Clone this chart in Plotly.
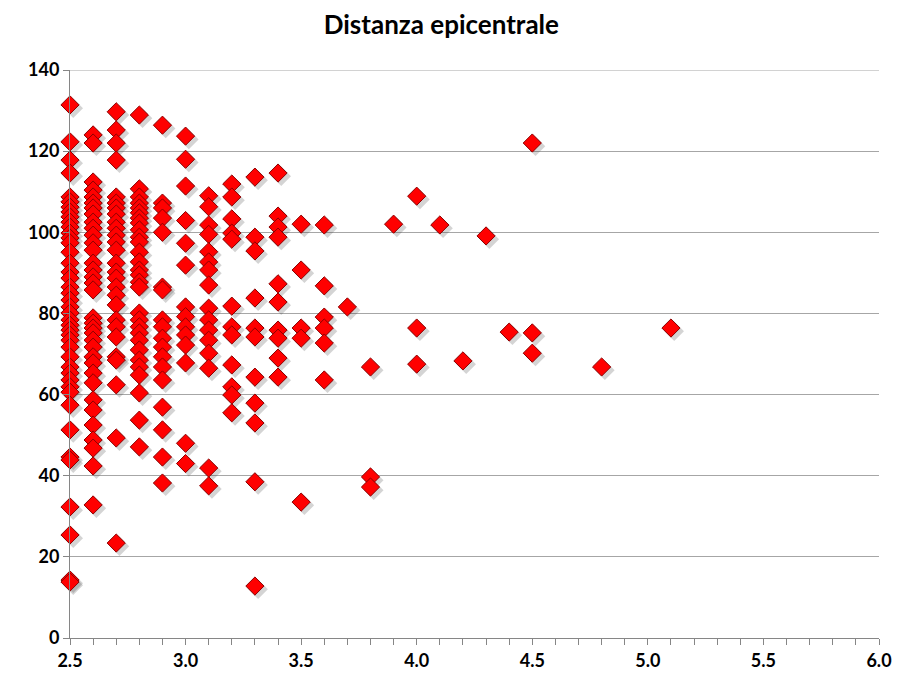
import plotly.graph_objects as go

# Magnitudo (x) and distanza epicentrale (y), grouped by magnitude column
m25 = [131.4, 122.3, 117.8, 114.6, 108.7, 107.5, 106.2, 105.0, 103.8, 102.5, 101.3, 99.8, 98.6, 97.4,
       95.1, 92.4, 90.2, 88.7, 86.5, 85.0, 83.3, 81.6, 80.1, 78.4, 77.1, 75.9, 74.7, 73.4, 71.7, 69.3,
       66.8, 65.3, 63.6, 61.9, 60.6, 57.4, 51.3, 44.6, 43.9, 32.3, 25.4, 14.3, 13.8]
m26 = [124.0, 122.0, 112.4, 110.4, 108.7, 107.2, 106.0, 104.5, 102.5, 101.0, 99.3, 97.4, 95.6, 92.4,
       90.7, 89.0, 87.5, 85.8, 78.9, 77.6, 76.4, 75.2, 73.4, 71.7, 69.3, 67.8, 65.3, 62.9, 58.7, 56.2,
       52.5, 48.8, 46.8, 42.4, 32.8]
m27 = [129.7, 125.2, 122.0, 117.8, 108.7, 107.2, 106.0, 104.5, 102.5, 101.0, 99.3, 97.6, 95.6, 92.4,
       90.2, 88.7, 86.5, 84.5, 82.1, 78.4, 76.7, 74.2, 69.3, 68.5, 62.4, 49.3, 23.4]
m28 = [128.9, 110.7, 108.7, 107.2, 106.0, 104.8, 103.5, 102.3, 100.6, 98.8, 97.6, 95.1, 92.7, 90.7,
       89.5, 87.7, 86.5, 80.1, 78.4, 76.7, 75.2, 73.4, 71.0, 68.5, 66.8, 64.8, 60.4, 53.7, 47.1]
m29 = [126.4, 107.2, 106.0, 103.5, 100.0, 86.5, 85.8, 78.4, 76.7, 73.9, 71.7, 69.3, 66.8, 63.6,
       56.9, 51.3, 44.6, 38.2]
m30 = [123.7, 118.0, 111.4, 102.9, 97.3, 91.9, 81.6, 79.2, 76.7, 74.7, 72.2, 67.8, 48.0, 43.0]
m31 = [109.0, 106.3, 101.8, 99.5, 95.2, 92.7, 90.7, 87.0, 81.3, 78.4, 75.9, 73.4, 70.2, 66.5,
       41.9, 37.5]
m32 = [111.9, 108.7, 103.3, 99.8, 98.3, 81.8, 76.7, 74.7, 67.3, 61.9, 59.9, 55.5]
m33 = [113.6, 98.8, 95.4, 83.8, 76.4, 74.2, 64.3, 57.9, 53.0, 38.5, 12.8]
m34 = [114.6, 104.0, 101.3, 98.8, 87.3, 82.8, 75.9, 73.9, 69.0, 64.3]
m35 = [102.0, 90.7, 76.4, 73.9, 33.5]
m36 = [101.8, 86.8, 79.1, 76.4, 72.7, 63.6]
others_x = [3.7, 3.8, 3.8, 3.8, 3.9, 4.0, 4.0, 4.0, 4.1, 4.2, 4.3, 4.4, 4.5, 4.5, 4.5, 4.8, 5.1]
others_y = [81.6, 66.8, 39.7, 37.2, 102.0, 108.9, 76.4, 67.5, 101.8, 68.3, 99.1, 75.4, 122.0, 75.2, 70.2, 66.8, 76.4]

columns = [(2.5, m25), (2.6, m26), (2.7, m27), (2.8, m28), (2.9, m29), (3.0, m30),
           (3.1, m31), (3.2, m32), (3.3, m33), (3.4, m34), (3.5, m35), (3.6, m36)]

xs, ys = [], []
for mag, vals in columns:
    xs += [mag] * len(vals)
    ys += vals
xs += others_x
ys += others_y

x_ticks = [2.5, 3.0, 3.5, 4.0, 4.5, 5.0, 5.5, 6.0]
y_ticks = [0, 20, 40, 60, 80, 100, 120, 140]
X_MIN, X_MAX = 2.5, 6.0
Y_MIN, Y_MAX = 0, 140

fig = go.Figure()
# soft drop shadow
fig.add_trace(go.Scatter(
    x=[v + 0.014 for v in xs], y=[v - 0.8 for v in ys], mode="markers",
    marker=dict(symbol="diamond", size=15, color="rgba(60,60,60,0.22)", line=dict(width=0)),
    hoverinfo="skip", showlegend=False, cliponaxis=False))
fig.add_trace(go.Scatter(
    x=xs, y=ys, mode="markers",
    marker=dict(symbol="diamond", size=14, color="#FF0000",
                line=dict(color="#8B0000", width=1)),
    showlegend=False, cliponaxis=False))

# top gridline at the upper bound of the value axis
fig.add_shape(type="line", xref="paper", x0=0, x1=1, yref="y", y0=Y_MAX, y1=Y_MAX,
              line=dict(color="#A6A6A6", width=1), layer="below")

tick_font = dict(family="Lato, Open Sans, sans-serif", size=18, color="#000000", weight=700)
fig.update_layout(
    width=897, height=677,
    margin=dict(l=70, r=18, t=70, b=39, autoexpand=False),
    paper_bgcolor="white", plot_bgcolor="white",
    title=dict(text="Distanza epicentrale", x=0.492, xanchor="center", y=0.963, yanchor="middle",
               font=dict(family="Lato, Open Sans, sans-serif", size=26, color="#000000", weight=700)),
    xaxis=dict(range=[X_MIN, X_MAX], tickvals=x_ticks, tickformat=".1f", automargin=False,
               showgrid=False, zeroline=False, showline=True, linecolor="#868686", linewidth=1,
               ticks="outside", ticklen=6, tickcolor="#868686",
               minor=dict(dtick=0.1, ticks="outside", ticklen=6, tickcolor="#868686"),
               tickfont=tick_font),
    yaxis=dict(range=[Y_MIN, Y_MAX], tickvals=y_ticks, automargin=False,
               showgrid=True, gridcolor="#A6A6A6", gridwidth=1, zeroline=False,
               showline=True, linecolor="#868686", linewidth=1,
               ticks="outside", ticklen=6, tickcolor="#868686",
               tickfont=tick_font),
)

fig.write_html("out.html")
